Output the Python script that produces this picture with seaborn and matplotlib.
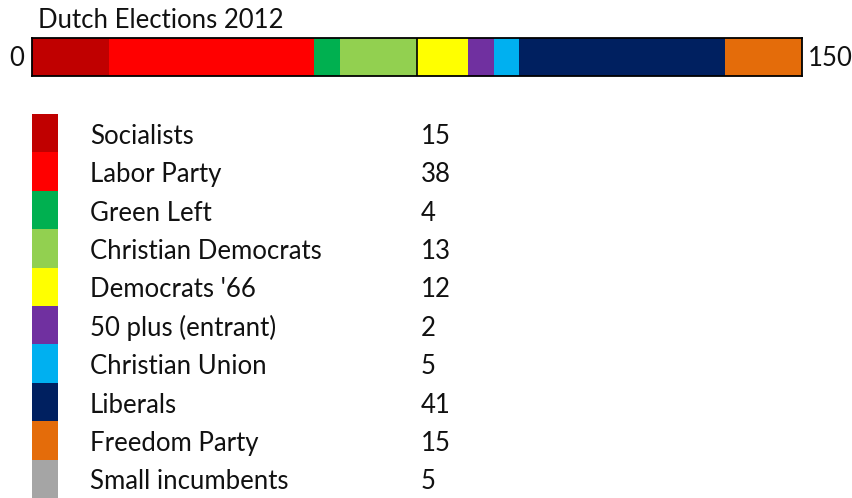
import numpy as np
import pandas as pd
import matplotlib
matplotlib.use("Agg")
import matplotlib.pyplot as plt
import seaborn as sns

# ---- data ----
parties = ["Socialists", "Labor Party", "Green Left", "Christian Democrats",
           "Democrats '66", "50 plus (entrant)", "Christian Union", "Liberals",
           "Freedom Party", "Small incumbents"]
seats = [15, 38, 4, 13, 12, 2, 5, 41, 15, 5]
bar_seats = [15, 40, 5, 15, 10, 5, 5, 40, 15, 0]
colors = ["#C00000", "#FF0000", "#00B050", "#92D050", "#FFFF00",
          "#7030A0", "#00B0F0", "#002060", "#E46C0A", "#A5A5A5"]
total_seats = 150
majority = 75
title = "Dutch Elections 2012"

sns.set_theme(style="white")
plt.rcParams["font.family"] = ["Lato", "DejaVu Sans"]
FS = 18.5
TXT = "#111111"

W, H = 852, 498
fig = plt.figure(figsize=(W / 100, H / 100), dpi=100)

def px_axes(x0, y0, x1, y1):
    return fig.add_axes([x0 / W, 1 - y1 / H, (x1 - x0) / W, (y1 - y0) / H])

# ---- stacked seat bar ----
ax = px_axes(32, 38, 801.7, 76)
cum = np.cumsum(bar_seats)
for i in reversed(range(len(parties))):
    if bar_seats[i] == 0:
        continue
    sns.barplot(x=[cum[i]], y=["2012"], color=colors[i], orient="h",
                width=1.0, ax=ax, saturation=1, linewidth=0)
ax.axvline(majority, color="black", lw=1.2)
ax.set_xlim(0, total_seats)
ax.set_ylim(0.5, -0.5)
ax.set_xticks([]); ax.set_yticks([])
ax.set_xlabel(""); ax.set_ylabel("")
for s in ax.spines.values():
    s.set_visible(True); s.set_color("black"); s.set_linewidth(1.3)
ax.text(-1.5, 0.05, "0", ha="right", va="center", fontsize=FS, color=TXT)
ax.text(total_seats + 1.2, 0.05, str(total_seats), ha="left", va="center", fontsize=FS, color=TXT)
fig.text(38 / W, 1 - 21 / H, title, ha="left", va="center", fontsize=FS, color=TXT)

# ---- legend ----
lax = px_axes(32, 114, 58, 114 + 38.4 * len(parties))
df = pd.DataFrame({"party": parties, "one": np.ones(len(parties))})
sns.barplot(data=df, x="one", y="party", hue="party", palette=colors, orient="h",
            width=1.0, ax=lax, saturation=1, linewidth=0, legend=False)
lax.set_xlim(0, 1)
lax.set_ylim(len(parties) - 0.5, -0.5)
lax.axis("off")
for i, (p, v) in enumerate(zip(parties, seats)):
    lax.annotate(p, xy=(90 / W, i + 0.08), xycoords=("figure fraction", "data"),
                 ha="left", va="center", fontsize=FS, color=TXT, annotation_clip=False)
    lax.annotate(str(v), xy=(421 / W, i + 0.08), xycoords=("figure fraction", "data"),
                 ha="left", va="center", fontsize=FS, color=TXT, annotation_clip=False)

fig.savefig("out.png", dpi=100)
